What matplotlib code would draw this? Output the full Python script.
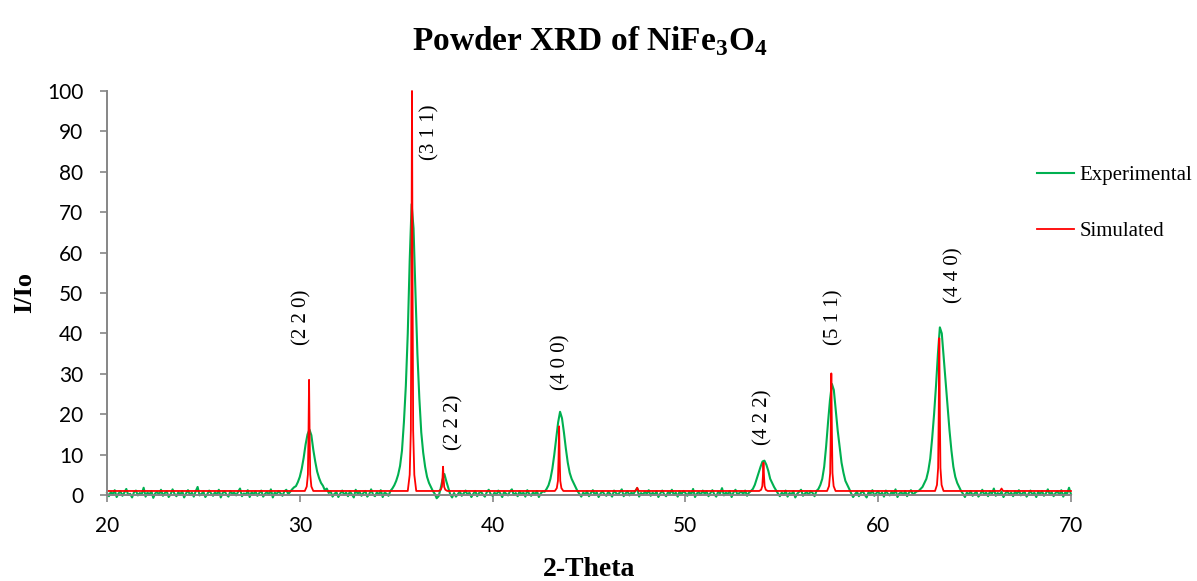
import matplotlib.pyplot as plt
import numpy as np

# experimental scan, 20..70 deg 2-theta, step 0.1 (one row per degree)
exp_start = 20.0
exp_step = 0.1
exp_y = [
    0.5, -0.3, 0.8, 0.1, 1.2, -0.5, 0.4, 0.9, -0.2, 0.6,      # 20
    1.5, 0.0, 0.3, -0.6, 0.7, 1.1, -0.1, 0.5, 0.2, 1.8,       # 21
    -0.4, 0.6, 0.1, 1.0, -0.7, 0.4, 0.8, 0.0, 1.3, -0.2,      # 22
    0.5, 0.9, -0.5, 0.2, 1.4, 0.3, -0.3, 0.7, 0.1, 1.0,       # 23
    -0.6, 0.4, 1.2, 0.0, 0.6, -0.4, 0.9, 2.0, -0.1, 0.3,      # 24
    0.8, -0.5, 0.2, 1.1, 0.4, -0.2, 0.7, 0.0, 1.3, -0.6,      # 25
    0.5, 0.9, 0.1, -0.4, 1.0, 0.3, 0.6, -0.1, 0.8, 1.6,       # 26
    -0.3, 0.4, 0.0, 1.2, -0.5, 0.7, 0.2, 0.9, -0.2, 0.5,      # 27
    1.1, -0.4, 0.3, 0.8, 0.0, 1.4, -0.6, 0.6, 0.2, 1.0,       # 28
    0.4, -0.2, 0.9, 1.3, 0.2, 0.8, 1.4, 1.9, 2.2, 3.2,        # 29
    4.5, 6.5, 9.2, 12.5, 15.0, 16.2, 14.8, 11.2, 8.3, 5.8,    # 30
    4.2, 3.0, 2.3, 1.2, 1.6, 0.5, 0.9, -0.4, 0.3, 0.7,        # 31
    -0.5, 0.4, 1.1, 0.0, 0.6, -0.3, 0.9, 0.2, -0.6, 1.3,      # 32
    0.3, 0.8, -0.2, 0.5, 1.0, -0.4, 0.2, 1.4, 0.1, -0.3,      # 33
    0.7, 0.0, 1.2, -0.5, 0.6, 0.3, -0.2, 1.0, 1.6, 2.4,       # 34
    3.5, 5.0, 7.2, 11.0, 18.0, 27.0, 40.0, 58.0, 72.0, 66.0,  # 35
    50.0, 35.0, 24.0, 15.5, 10.5, 7.0, 4.5, 3.0, 2.0, 1.0,    # 36
    0.3, -0.8, -0.3, 1.5, 3.8, 5.2, 3.4, 1.8, 0.2, -0.6,      # 37
    0.5, -0.4, 0.2, 0.9, -0.2, 0.4, 1.1, 0.0, 0.6, -0.5,      # 38
    0.3, 1.0, -0.3, 0.5, 0.8, 0.1, -0.4, 0.7, 1.3, 0.2,       # 39
    -0.2, 0.6, 0.0, 1.1, 0.4, -0.5, 0.8, 0.3, -0.1, 0.9,      # 40
    1.4, 0.0, 0.5, -0.3, 0.9, 0.2, 0.6, -0.4, 1.2, 0.3,       # 41
    -0.2, 0.7, 0.1, 1.0, -0.5, 0.4, 0.9, 0.8, 1.5, 2.4,       # 42
    4.0, 6.5, 10.0, 14.0, 18.0, 20.6, 19.0, 15.5, 11.5, 8.0,  # 43
    5.5, 4.0, 3.0, 2.0, 1.0, 0.3, -0.4, 0.6, 0.1, 0.9,        # 44
    -0.3, 0.5, 1.2, 0.0, 0.7, -0.5, 0.4, 0.9, 0.2, -0.2,      # 45
    0.8, 0.3, -0.4, 1.1, 0.5, 0.0, 0.7, 1.4, -0.3, 0.4,       # 46
    0.9, -0.1, 0.6, 0.2, 1.0, 1.7, -0.4, 0.5, 0.1, 0.8,       # 47
    0.3, 1.2, -0.2, 0.6, 0.0, 0.9, -0.5, 0.4, 1.1, 0.2,       # 48
    -0.3, 0.7, 0.4, 1.3, 0.0, 0.6, -0.4, 0.9, 0.2, 1.0,       # 49
    0.5, -0.2, 0.8, 0.1, 1.5, -0.5, 0.4, 0.7, 0.0, 1.1,       # 50
    0.3, 0.9, -0.3, 0.5, 1.2, 0.2, -0.4, 0.8, 0.4, 1.7,       # 51
    -0.1, 0.6, 0.2, 1.0, -0.5, 0.7, 1.3, 0.1, 0.5, 0.9,       # 52
    0.2, 1.1, -0.2, 0.6, 1.0, 1.5, 2.5, 4.0, 5.5, 7.0,        # 53
    8.3, 8.5, 7.5, 6.0, 4.0, 3.0, 2.0, 1.2, 0.4, -0.3,        # 54
    0.6, 0.0, 1.1, -0.4, 0.5, 0.2, 0.9, -0.6, 0.3, 0.8,       # 55
    1.3, -0.2, 0.4, 0.7, 0.0, 1.0, 0.5, -0.3, 1.0, 1.5,       # 56
    2.5, 4.0, 7.0, 12.0, 18.0, 23.5, 27.5, 26.0, 21.0, 16.0,  # 57
    12.0, 8.0, 5.5, 3.5, 2.5, 1.5, 0.4, -0.5, 0.2, 0.8,       # 58
    -0.3, 0.5, 1.0, 0.1, -0.6, 0.7, 0.3, 1.2, -0.2, 0.4,      # 59
    0.9, 0.0, 0.6, -0.4, 1.1, 0.3, -0.1, 0.8, 0.2, 1.4,       # 60
    -0.5, 0.4, 0.7, 0.0, 1.0, -0.3, 0.6, 1.2, 0.1, 0.5,       # 61
    0.9, 1.0, 1.5, 2.0, 3.0, 4.0, 6.0, 9.0, 14.0, 20.0,       # 62
    27.0, 35.0, 41.5, 40.0, 34.0, 28.0, 22.0, 16.0, 11.0, 7.0,  # 63
    4.5, 3.0, 2.0, 1.0, 0.3, -0.5, 0.6, 0.1, 1.0, -0.2,       # 64
    0.4, 0.8, -0.4, 0.2, 1.3, 0.0, 0.6, -0.3, 0.9, 0.3,       # 65
    1.6, -0.2, 0.5, 0.1, 0.8, -0.5, 0.4, 1.0, 0.0, 0.6,       # 66
    -0.3, 0.9, 0.2, 1.2, -0.1, 0.5, 0.7, -0.4, 0.3, 1.1,      # 67
    0.0, 0.6, -0.5, 0.8, 0.2, 1.0, -0.2, 0.4, 1.4, 0.1,       # 68
    0.7, -0.3, 0.5, 0.9, 0.0, 1.2, -0.4, 0.6, 0.3, 1.8,       # 69
    0.2,                                                      # 70
]
exp_x = exp_start + exp_step * np.arange(len(exp_y))

# simulated pattern, sharp peaks on a baseline of 1
sim_x = [20.0,
         30.26, 30.36, 30.42, 30.45, 30.48, 30.51, 30.54, 30.60, 30.70,
         35.60, 35.70, 35.76, 35.79, 35.82, 35.85, 35.88, 35.94, 36.04,
         37.21, 37.31, 37.37, 37.40, 37.43, 37.46, 37.49, 37.55, 37.65,
         43.23, 43.33, 43.39, 43.42, 43.45, 43.48, 43.51, 43.57, 43.67,
         47.42, 47.50, 47.58,
         53.83, 53.93, 53.99, 54.02, 54.05, 54.08, 54.11, 54.17, 54.27,
         57.35, 57.45, 57.51, 57.54, 57.57, 57.60, 57.63, 57.69, 57.79,
         62.95, 63.05, 63.11, 63.14, 63.17, 63.20, 63.23, 63.29, 63.39,
         66.32, 66.40, 66.48,
         70.0]
sim_y = [1.0,
         1.0, 2.1, 5.1, 14.7, 28.5, 14.7, 5.1, 2.1, 1.0,
         1.0, 5.0, 16.0, 51.0, 100.0, 51.0, 16.0, 5.0, 1.0,
         1.0, 1.3, 2.0, 4.0, 7.0, 4.0, 2.0, 1.3, 1.0,
         1.0, 1.7, 3.5, 9.0, 17.0, 9.0, 3.5, 1.7, 1.0,
         1.0, 1.8, 1.0,
         1.0, 1.3, 2.2, 4.5, 8.0, 4.5, 2.2, 1.3, 1.0,
         1.0, 2.2, 5.4, 15.5, 30.1, 15.5, 5.4, 2.2, 1.0,
         1.0, 2.5, 6.7, 19.9, 38.8, 19.9, 6.7, 2.5, 1.0,
         1.0, 1.6, 1.0,
         1.0]

hkl_labels = ['(2 2 0)', '(3 1 1)', '(2 2 2)', '(4 0 0)', '(4 2 2)', '(5 1 1)', '(4 4 0)']
hkl_pos = [(30.1, 44.1), (36.75, 89.9), (38.0, 18.1), (43.55, 32.9),
           (54.03, 19.3), (57.71, 44.1), (63.93, 54.5)]

serif = 'Liberation Serif'
plt.rcParams['mathtext.fontset'] = 'custom'
plt.rcParams['mathtext.rm'] = 'Liberation Serif:bold'
plt.rcParams['mathtext.bf'] = 'Liberation Serif:bold'

fig = plt.figure(figsize=(11.97, 5.81), dpi=100)
ax = fig.add_axes([0.0894, 0.148, 0.8053, 0.6954])

ax.plot(exp_x, exp_y, color='#00B050', lw=1.5, clip_on=False, label='Experimental')
ax.plot(sim_x, sim_y, color='#FF0000', lw=1.3, clip_on=False, label='Simulated')

ax.set_xlim(20, 70)
ax.set_ylim(0, 100)
ax.set_xticks(range(20, 71, 10))
ax.set_yticks(range(0, 101, 10))

for s in ['top', 'right']:
    ax.spines[s].set_visible(False)
for s in ['left', 'bottom']:
    ax.spines[s].set_color('#868686')
    ax.spines[s].set_linewidth(1.4)
ax.tick_params(axis='both', colors='#868686', width=1.2, length=5, labelcolor='black',
               labelsize=15)
ax.tick_params(axis='x', pad=10)
ax.tick_params(axis='y', pad=12)
for t in ax.get_xticklabels() + ax.get_yticklabels():
    t.set_fontfamily('Lato')

for lab, (x, y) in zip(hkl_labels, hkl_pos):
    ax.text(x, y, lab, rotation=90, ha='center', va='center', fontsize=15, family=serif)

ax.set_xlabel('2-Theta', fontsize=20, fontweight='bold', family=serif, labelpad=15)
ax.set_ylabel('I/Io', fontsize=19, fontweight='bold', family=serif, labelpad=8)
fig.text(0.4925, 0.93, r'Powder XRD of NiFe$_3$O$_4$', ha='center', va='center',
         fontsize=24, fontweight='bold', family=serif)

ax.legend(loc='upper left', bbox_to_anchor=(0.866, 0.715), bbox_transform=fig.transFigure,
          frameon=False, prop={'family': serif, 'size': 15}, handlelength=1.8,
          handletextpad=0.25, labelspacing=1.75, borderpad=0, borderaxespad=0)

fig.savefig('out.png', dpi=100)
